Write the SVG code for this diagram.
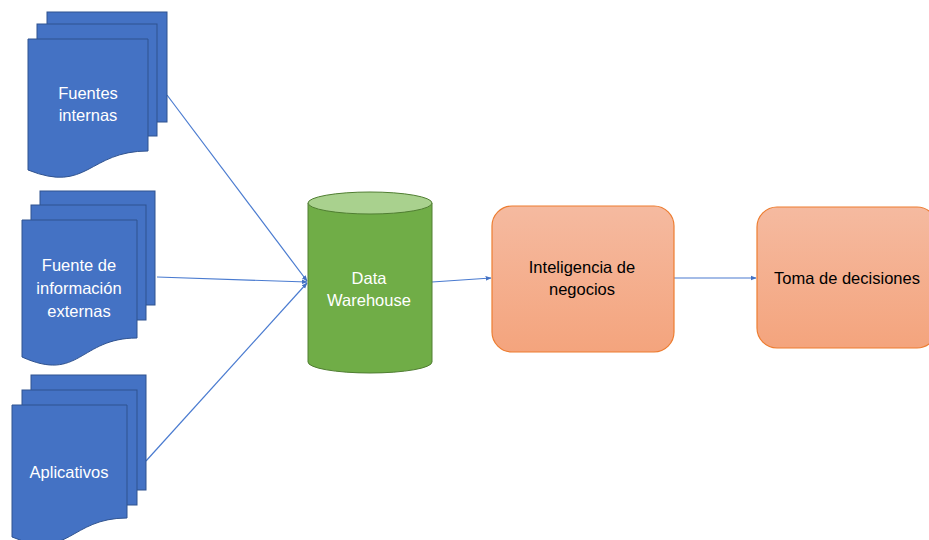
<svg xmlns="http://www.w3.org/2000/svg" width="929" height="540" viewBox="0 0 929 540">
  <defs>
    <marker id="arrow" viewBox="0 0 10 10" refX="9" refY="5" markerWidth="6" markerHeight="6" orient="auto" markerUnits="userSpaceOnUse">
      <path d="M0,1 L10,5 L0,9 Z" fill="#4472C4"/>
    </marker>
    <linearGradient id="orange" x1="0" y1="0" x2="0" y2="1">
      <stop offset="0" stop-color="#F5BAA0"/>
      <stop offset="1" stop-color="#F4A47D"/>
    </linearGradient>
    <style>
      .page { fill: #4472C4; stroke: #2F528F; stroke-width: 1; }
      .label-w { font-family: "Liberation Sans", Arial, sans-serif; font-size: 16.5px; fill: #FFFFFF; text-anchor: middle; }
      .label-k { font-family: "Liberation Sans", Arial, sans-serif; font-size: 16.5px; fill: #000000; text-anchor: middle; }
      .box { fill: url(#orange); stroke: #ED7D31; stroke-width: 1.2; }
      .link { stroke: #4A7BD0; stroke-width: 1.2; fill: none; marker-end: url(#arrow); }
    </style>
  </defs>
  <rect width="929" height="540" fill="#FFFFFF"/>

  <!-- connectors -->
  <g id="connectors">
    <line class="link" x1="167" y1="95" x2="307" y2="281"/>
    <line class="link" x1="157" y1="277" x2="307" y2="282"/>
    <line class="link" x1="146" y1="461" x2="307" y2="283"/>
    <line class="link" x1="432" y1="282" x2="491" y2="278"/>
    <line class="link" x1="674" y1="278" x2="756" y2="278"/>
  </g>

  <!-- internal sources -->
  <g id="fuentes-internas">
    <rect class="page" x="47" y="12" width="120" height="110"/>
    <rect class="page" x="37" y="24" width="120" height="112"/>
    <path class="page" d="M28,39 H148 V151 C88,151 88,194 28,170 Z"/>
    <text class="label-w" x="88" y="99">Fuentes</text>
    <text class="label-w" x="88" y="121">internas</text>
  </g>

  <!-- external information sources -->
  <g id="fuentes-externas">
    <rect class="page" x="40" y="191" width="115" height="114"/>
    <rect class="page" x="31" y="205" width="115" height="115"/>
    <path class="page" d="M22,220 H137 V338 C79.5,338 79.5,383 22,357 Z"/>
    <text class="label-w" x="79" y="271">Fuente de</text>
    <text class="label-w" x="79" y="294">información</text>
    <text class="label-w" x="79" y="317">externas</text>
  </g>

  <!-- applications -->
  <g id="aplicativos">
    <rect class="page" x="31" y="375" width="115" height="115"/>
    <rect class="page" x="22" y="390" width="115" height="115"/>
    <path class="page" d="M12,405 H127 V518 C69.5,518 69.5,561 12,537 Z"/>
    <text class="label-w" x="69" y="478">Aplicativos</text>
  </g>

  <!-- data warehouse cylinder -->
  <g id="data-warehouse">
    <path d="M308,203 V362 A62,11 0 0 0 432,362 V203" fill="#70AD47" stroke="#507E32" stroke-width="1"/>
    <ellipse cx="370" cy="203" rx="62" ry="11" fill="#A9D18E" stroke="#507E32" stroke-width="1"/>
    <text class="label-w" x="369" y="284">Data</text>
    <text class="label-w" x="369" y="306">Warehouse</text>
  </g>

  <!-- business intelligence -->
  <g id="inteligencia">
    <rect class="box" x="492" y="206" width="182" height="146" rx="20" ry="20"/>
    <text class="label-k" x="582" y="273">Inteligencia de</text>
    <text class="label-k" x="582" y="295">negocios</text>
  </g>

  <!-- decision making -->
  <g id="toma-decisiones">
    <rect class="box" x="757" y="207" width="180" height="141" rx="20" ry="20"/>
    <text class="label-k" x="847" y="284">Toma de decisiones</text>
  </g>
</svg>
